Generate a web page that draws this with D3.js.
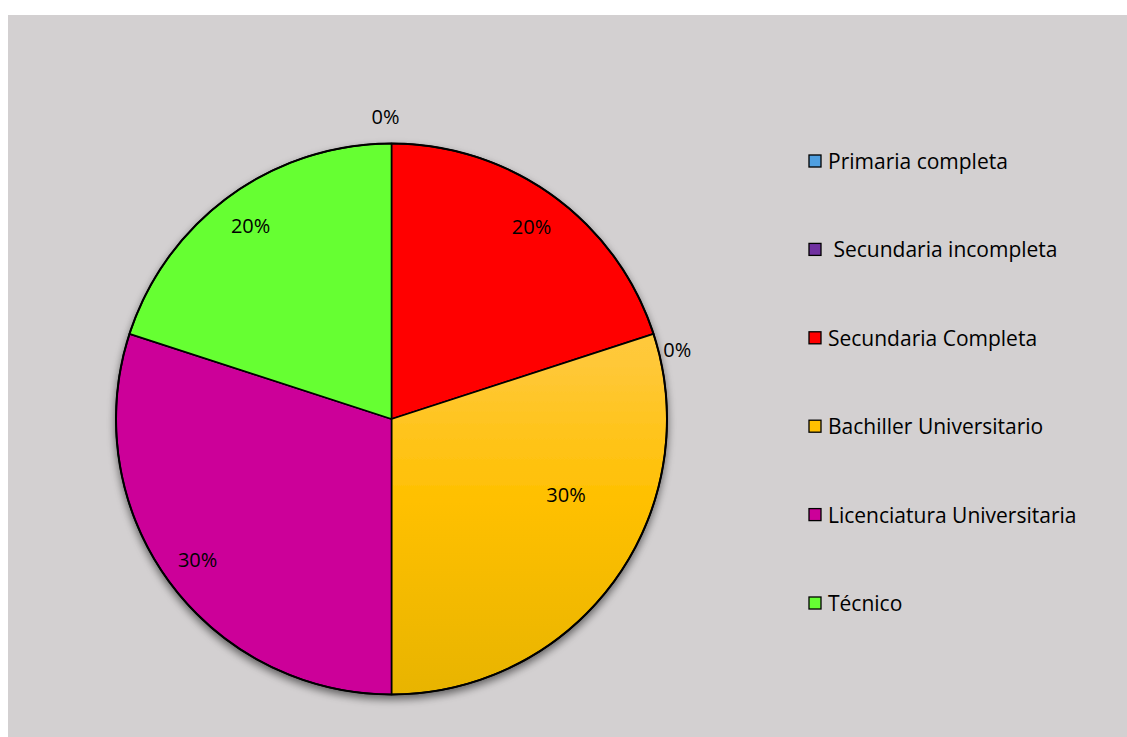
<!DOCTYPE html>
<html>
<head>
<meta charset="utf-8">
<script src="https://cdn.jsdelivr.net/npm/d3@7"></script>
<style>
  html, body { margin: 0; padding: 0; background: #ffffff; }
  svg { display: block; }
  text { font-family: "Open Sans", Lato, sans-serif; fill: #000; }
</style>
</head>
<body>
<svg id="chart" width="1127" height="737"></svg>
<script>
// Nivel educativo — participación porcentual
const categories = [
  "Primaria completa",
  " Secundaria incompleta",
  "Secundaria Completa",
  "Bachiller Universitario",
  "Licenciatura Universitaria",
  "Técnico"
];
const values = [0, 0, 20, 30, 30, 20];
const valueLabels = ["0%", "0%", "20%", "30%", "30%", "20%"];
const colors = ["#4f9fe0", "#7030a0", "#ff0000", "#ffc000", "#cc0099", "#66ff33"];

// Label placement per slice: angle shift (radians) from the slice middle, radius as a fraction of R
const labelShift = [-0.02, 1.333, 0, -0.22, 0, 0];
const labelRadius = [1.10, 1.067, 0.865, 0.69, 0.87, 0.87];

const W = 1127, H = 737;
const svg = d3.select("#chart");

// Chart area
svg.append("rect")
  .attr("x", 8).attr("y", 15)
  .attr("width", W - 8).attr("height", H - 15)
  .attr("fill", "#d3d0d1");

const defs = svg.append("defs");

const shadow = defs.append("filter")
  .attr("id", "pieShadow")
  .attr("x", "-10%").attr("y", "-10%")
  .attr("width", "120%").attr("height", "125%");
shadow.append("feGaussianBlur").attr("in", "SourceAlpha").attr("stdDeviation", 4).attr("result", "blur");
shadow.append("feOffset").attr("in", "blur").attr("dx", 0).attr("dy", 4).attr("result", "off");
shadow.append("feComponentTransfer").attr("in", "off").attr("result", "soft")
  .append("feFuncA").attr("type", "linear").attr("slope", 0.55);
const merge = shadow.append("feMerge");
merge.append("feMergeNode").attr("in", "soft");
merge.append("feMergeNode").attr("in", "SourceGraphic");

const cx = 391.5, cy = 419, R = 275.5;

// Yellow slice gets a vertical gradient across the pie height
const grad = defs.append("linearGradient")
  .attr("id", "goldGrad")
  .attr("gradientUnits", "userSpaceOnUse")
  .attr("x1", 0).attr("y1", -R).attr("x2", 0).attr("y2", R);
grad.append("stop").attr("offset", "0%").attr("stop-color", "#ffd050");
grad.append("stop").attr("offset", "40%").attr("stop-color", "#ffc838");
grad.append("stop").attr("offset", "65%").attr("stop-color", "#ffc000");
grad.append("stop").attr("offset", "100%").attr("stop-color", "#e8b400");

const fillFor = i => categories[i].startsWith("Bachiller") ? "url(#goldGrad)" : colors[i];

const pie = d3.pie().value(d => d).sort(null);
const arcs = pie(values);
const arc = d3.arc().innerRadius(0).outerRadius(R);

const g = svg.append("g").attr("transform", `translate(${cx},${cy})`);

const slices = g.append("g").attr("filter", "url(#pieShadow)");
slices.selectAll("path")
  .data(arcs.filter(d => d.value > 0))
  .join("path")
  .attr("d", arc)
  .attr("fill", d => fillFor(d.index))
  .attr("stroke", "#000")
  .attr("stroke-width", 1.6)
  .attr("stroke-linejoin", "round");

// Outer ring stroke
g.append("circle").attr("r", R).attr("fill", "none").attr("stroke", "#000").attr("stroke-width", 2);

// Percentage labels
g.selectAll("text.pct")
  .data(arcs)
  .join("text")
  .attr("class", "pct")
  .attr("text-anchor", "middle")
  .attr("dominant-baseline", "central")
  .attr("font-size", 20)
  .attr("transform", d => {
    const a = (d.startAngle + d.endAngle) / 2 + labelShift[d.index];
    const r = R * labelRadius[d.index];
    return `translate(${r * Math.sin(a)},${-r * Math.cos(a)})`;
  })
  .text(d => valueLabels[d.index]);

// Legend
const legendY = d3.scalePoint().domain(categories).range([161, 603]);
const legend = svg.append("g");
const items = legend.selectAll("g")
  .data(categories)
  .join("g")
  .attr("transform", d => `translate(809,${legendY(d)})`);
items.append("rect")
  .attr("x", 0).attr("y", -6)
  .attr("width", 12).attr("height", 12)
  .attr("fill", (d, i) => colors[i])
  .attr("stroke", "#000").attr("stroke-width", 1.3);
items.append("text")
  .attr("x", 19)
  .attr("dominant-baseline", "central")
  .attr("font-size", 21)
  .style("white-space", "pre")
  .text(d => d);
</script>
</body>
</html>
